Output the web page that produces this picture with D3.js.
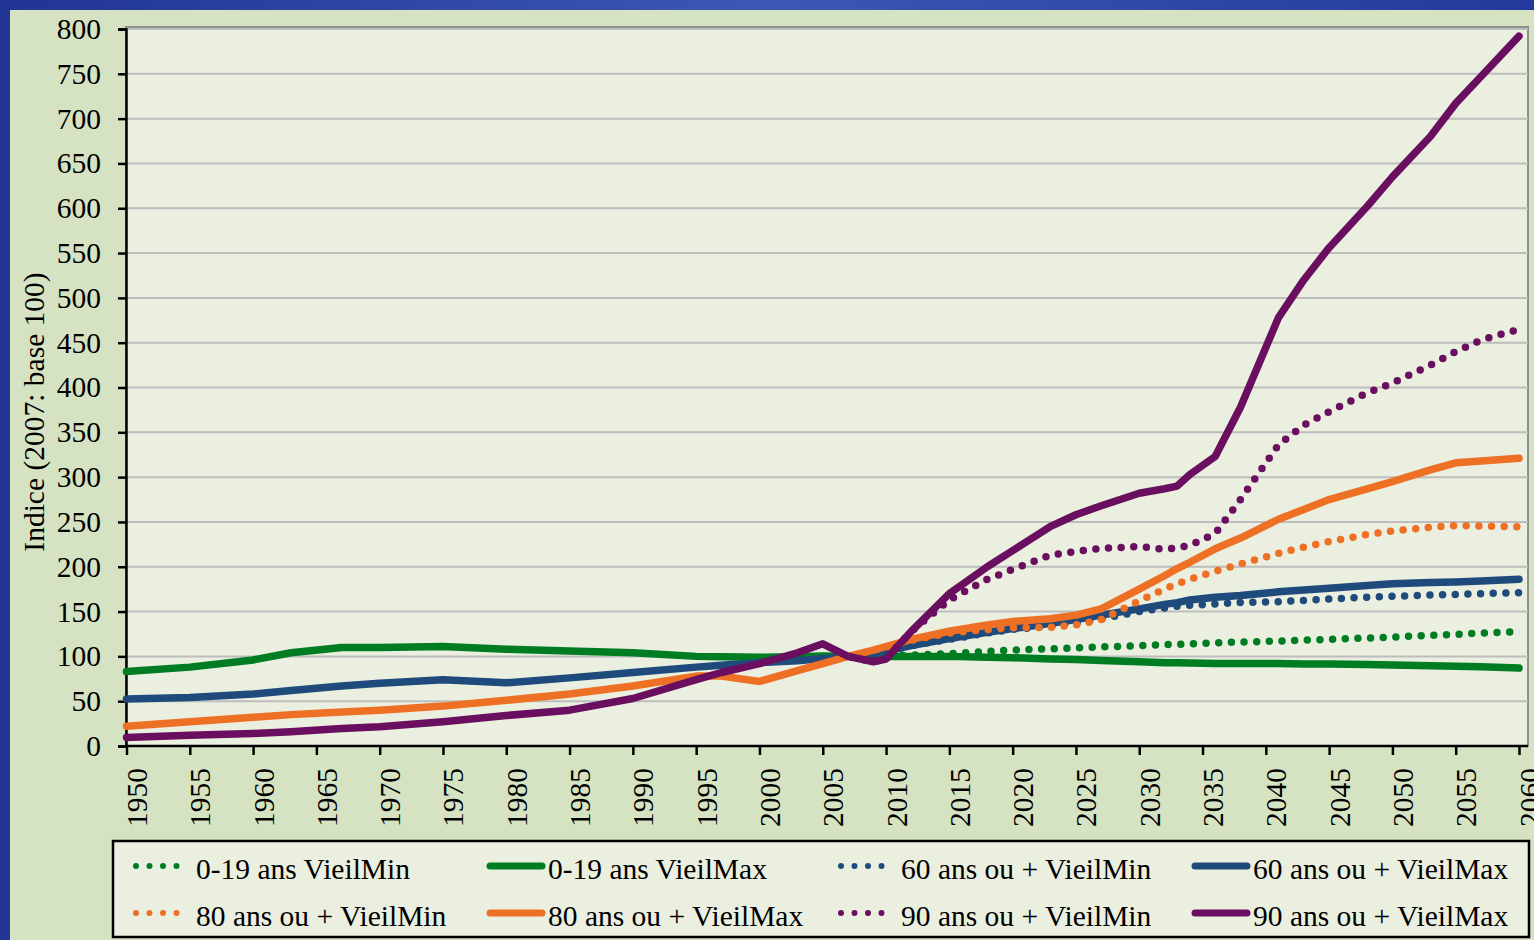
<!DOCTYPE html>
<html lang="fr">
<head>
<meta charset="UTF-8">
<title>Indice (2007: base 100)</title>
<script src="https://d3js.org/d3.v7.min.js"></script>
<style>
  body { margin: 0; background: #2c40a0; }
  svg text { font-family: "Liberation Serif", "Times New Roman", serif; fill: #000; }
</style>
</head>
<body>
<svg id="chart" width="1534" height="940"></svg>
<script>
var years = [1950,1955,1960,1963,1967,1970,1975,1980,1985,1990,1995,1997,2000,2003,2005,2007,2009,2010,2012,2015,2018,2020,2023,2025,2027,2030,2032,2033,2034,2036,2038,2041,2043,2045,2048,2050,2053,2055,2057,2060];

var g_max = [83,88,96,104,110,110,111,108,106,104,100,99.5,99,99.5,100.5,100,100,100,100,100,99,98.5,97,96.5,95.5,94,93,93,92.5,92,92,92,91.5,91.5,91,90.5,89.5,89,88.5,87];
var g_min = [null,null,null,null,null,null,null,null,null,null,null,null,null,null,null,100,100,100.5,101.5,103,105.5,107,108.5,109.5,110.5,112,113,113.5,114,115,116,117,118,119,120.5,121.5,123.5,124.5,126,127.5];
var b_max = [52.5,54,58,62,67,70,74,70.5,76,82,88,90,93,95,97.5,100,103,106,112,120,127,131,137,141,146,153,158,160,163,166,168,172,174,176,179,181,182.5,183,184,186];
var b_min = [null,null,null,null,null,null,null,null,null,null,null,null,null,null,null,100,103,106,112,119,126,130,134,137,142,150,154,156,157,158.5,160,161,162.5,164,166,167,168.5,169,170,171];
var o_max = [22,27,32,35,38,40,44.5,51,58,67,78,78,72,84,92,100,107,111,119,128,135,139,142,146,153,175,190,198,205,220,232,253,264,275,287,295,308,316,318,321];
var o_min = [null,null,null,null,null,null,null,null,null,null,null,null,null,null,null,100,107,110,118,126,130,132,132.5,135,141,162,175,181,186,195,203,215,222,228,236,240,244,246,245.5,244.5];
var p_max = [9.5,12,14,16,19.5,21.5,27,34,40,53,74,82,92,104,114,100,94,97,128,170,200,218,245,258,268,282,287,290,303,323,378,478,520,556,602,635,680,717,747,792];
var p_min = [null,null,null,null,null,null,null,null,null,null,null,null,null,null,null,100,94,97,128,163,186,197,213,217,220.5,222.5,219.5,221,224,237,275,336,358,373,394,405,425,440,453,465];

var seriesNames = ["0-19 ans VieilMin","0-19 ans VieilMax","60 ans ou + VieilMin","60 ans ou + VieilMax",
                   "80 ans ou + VieilMin","80 ans ou + VieilMax","90 ans ou + VieilMin","90 ans ou + VieilMax"];
var seriesValues = [g_min, g_max, b_min, b_max, o_min, o_max, p_min, p_max];
var seriesColors = ["#007d23","#007d23","#1f4b7c","#1f4b7c","#ee7024","#ee7024","#6a0f5f","#6a0f5f"];
var yTicks = d3.range(0, 801, 50);
var xTicks = d3.range(1950, 2061, 5);

var svg = d3.select("#chart");
var fontSize = 29.5;

// blue frame + green panel
var grad = svg.append("defs").append("linearGradient").attr("id", "frame")
    .attr("x1", "0").attr("x2", "1").attr("y1", "0").attr("y2", "0");
grad.append("stop").attr("offset", "0").attr("stop-color", "#223494");
grad.append("stop").attr("offset", "0.5").attr("stop-color", "#3b58b4");
grad.append("stop").attr("offset", "1").attr("stop-color", "#223a9c");
svg.append("rect").attr("width", 1534).attr("height", 940).attr("fill", "url(#frame)");
svg.append("rect").attr("x", 10).attr("y", 10).attr("width", 1524).attr("height", 930).attr("fill", "#d6e3c3");

var plotL = 126, plotR = 1528, plotT = 27, plotB = 746;
var x = d3.scaleLinear().domain([1950, 2060]).range([126.5, 1519]);
var y = d3.scaleLinear().domain([0, 800]).range([plotB, 29]);

// plot area
svg.append("rect").attr("x", plotL).attr("y", plotT).attr("width", plotR - plotL).attr("height", plotB - plotT)
    .attr("fill", "#ebefe0").attr("stroke", "#8f8f8f").attr("stroke-width", 2);

// gridlines
svg.append("g").selectAll("line").data(yTicks.filter(d => d > 0)).join("line")
    .attr("x1", plotL).attr("x2", plotR)
    .attr("y1", d => y(d)).attr("y2", d => y(d))
    .attr("stroke", "#bdbdbd").attr("stroke-width", 2);

// y axis
var yAxis = svg.append("g").attr("transform", "translate(" + plotL + ",0)")
    .call(d3.axisLeft(y).tickValues(yTicks).tickSize(8).tickPadding(17));
yAxis.select(".domain").attr("stroke", "#000").attr("stroke-width", 2.5);
yAxis.selectAll(".tick line").attr("stroke", "#000").attr("stroke-width", 2.5);
yAxis.selectAll(".tick text").attr("font-size", fontSize).attr("font-family", "Liberation Serif").attr("fill", "#000");

// x axis
var xAxis = svg.append("g").attr("transform", "translate(0," + plotB + ")")
    .call(d3.axisBottom(x).tickValues(xTicks).tickSize(9).tickFormat(d3.format("d")));
xAxis.select(".domain").remove();
xAxis.append("line").attr("x1", plotL).attr("x2", plotR).attr("stroke", "#000").attr("stroke-width", 2.5);
xAxis.selectAll(".tick line").attr("stroke", "#000").attr("stroke-width", 2.5);
xAxis.selectAll(".tick text")
    .attr("font-size", fontSize).attr("font-family", "Liberation Serif").attr("fill", "#000")
    .attr("text-anchor", "end").attr("dy", null)
    .attr("transform", "translate(20,22) rotate(-90)")
    .attr("x", 0).attr("y", 0);

// y title
svg.append("text")
    .attr("transform", "translate(44,412) rotate(-90)")
    .attr("text-anchor", "middle")
    .attr("font-size", fontSize)
    .text("Indice (2007: base 100)");

// lines
var line = d3.line()
    .defined(d => d[1] != null)
    .x(d => x(d[0]))
    .y(d => y(d[1]));

seriesValues.forEach(function(vals, i) {
    var dotted = i % 2 === 0;
    var pts = years.map((yr, j) => [yr, vals[j]]);
    svg.append("path")
        .datum(pts)
        .attr("d", line)
        .attr("fill", "none")
        .attr("stroke", seriesColors[i])
        .attr("stroke-width", 7.5)
        .attr("stroke-linecap", "round")
        .attr("stroke-linejoin", "round")
        .attr("stroke-dasharray", dotted ? "0 12.66" : null)
        .attr("stroke-dashoffset", dotted ? -3.8 : null);
});

// legend
var legend = svg.append("g");
legend.append("rect").attr("x", 113).attr("y", 841).attr("width", 1416).attr("height", 96)
    .attr("fill", "#ebefe0").attr("stroke", "#000").attr("stroke-width", 2.5);
var colX = [133, 487, 838, 1192];
var rowY = [866, 913];
seriesNames.forEach(function(name, i) {
    var row = Math.floor(i / 4);
    var col = i % 4;
    var dotted = i % 2 === 0;
    var lx = colX[col], ly = rowY[row];
    legend.append("line")
        .attr("x1", lx + 3).attr("x2", dotted ? lx + 47 : lx + 55)
        .attr("y1", ly).attr("y2", ly)
        .attr("stroke", seriesColors[i])
        .attr("stroke-width", dotted ? 6 : 7)
        .attr("stroke-linecap", "round")
        .attr("stroke-dasharray", dotted ? "0 13.5" : null);
    legend.append("text")
        .attr("x", dotted ? lx + 63 : lx + 61)
        .attr("y", ly + 13)
        .attr("font-size", fontSize)
        .text(name);
});
</script>
</body>
</html>
